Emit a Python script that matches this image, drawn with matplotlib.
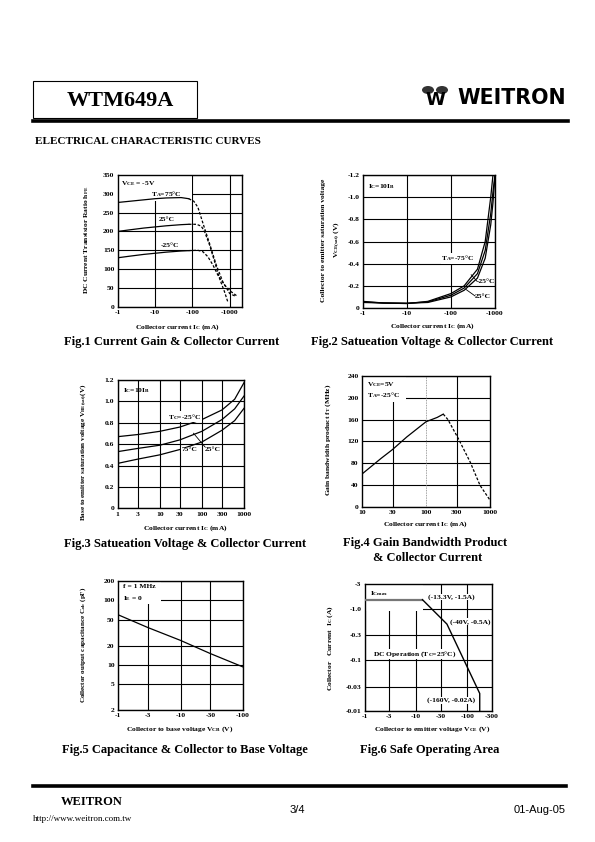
import numpy as np
import matplotlib
import matplotlib.pyplot as plt
from matplotlib.patches import Rectangle, Ellipse
from matplotlib.lines import Line2D

plt.rcParams['font.family'] = 'Liberation Serif'
plt.rcParams['font.weight'] = 'bold'
plt.rcParams['mathtext.fontset'] = 'custom'
plt.rcParams['mathtext.rm'] = 'Liberation Serif:bold'
plt.rcParams['mathtext.it'] = 'Liberation Serif:bold'
plt.rcParams['mathtext.bf'] = 'Liberation Serif:bold'
plt.rcParams['mathtext.default'] = 'rm'

# ---------------- data ----------------
# Fig.1 hFE vs Ic
f1_solid_x = [1, 2, 5, 10, 20, 50, 80]
f1_75_solid = [277, 280, 284, 287, 289, 290, 287]
f1_25_solid = [200, 204, 209, 212, 215, 218, 219]
f1_m25_solid = [130, 134, 139, 142, 145, 148, 149]
f1_75_dash_x = [80, 110, 141, 213, 289, 437, 657, 1000, 1490]
f1_75_dash = [287, 280, 264, 208, 168, 111, 66, 35, 27]
f1_25_dash_x = [80, 130, 173, 212, 289, 394, 535, 725, 890]
f1_25_dash = [219, 219, 214, 200, 164, 120, 75, 40, 13]
f1_m25_dash_x = [80, 140, 192, 260, 355, 483, 725, 1090, 1645]
f1_m25_dash = [149, 150, 146, 133, 111, 84, 58, 40, 27]

# Fig.2 VCE(sat) vs Ic
f2_x = [1, 3, 10, 30, 100, 200, 400, 600, 800, 900, 1000]
f2_a = [-0.06, -0.045, -0.04, -0.06, -0.13, -0.2, -0.35, -0.6, -1.0, -1.2, np.nan]
f2_b = [-0.055, -0.045, -0.042, -0.055, -0.115, -0.18, -0.31, -0.52, -0.85, -1.05, -1.2]
f2_c = [-0.05, -0.045, -0.043, -0.05, -0.10, -0.16, -0.27, -0.45, -0.75, -0.95, -1.2]

# Fig.3 VBE(sat) vs Ic
f3_x = [1, 3, 10, 30, 100, 300, 600, 1000]
f3_m25 = [0.67, 0.69, 0.72, 0.76, 0.83, 0.92, 1.02, 1.175]
f3_25 = [0.53, 0.56, 0.59, 0.64, 0.72, 0.83, 0.93, 1.05]
f3_75 = [0.42, 0.46, 0.50, 0.55, 0.62, 0.73, 0.82, 0.935]

# Fig.4 fT vs Ic
f4_solid_x = [10, 20, 30, 50, 100, 150, 186]
f4_solid = [60, 89, 105, 128, 156, 164, 170]
f4_dash_x = [186, 220, 320, 490, 700, 1000]
f4_dash = [170, 160, 125, 82, 39, 12]

# Fig.5 Cob vs VCB
f5_x = [1, 3, 10, 30, 100]
f5_c = [60, 38, 24, 15, 9.3]

# Fig.6 SOA
f6_x = [13.3, 40, 175, 175]
f6_i = [1.5, 0.5, 0.022, 0.01]
f6_icmax_x = [1, 13.3]
f6_icmax = [1.5, 1.5]

W, H = 595, 842
fig = plt.figure(figsize=(5.95, 8.42), dpi=100)
TS = 5.4


def box(x0, y0, x1, y1):
    return fig.add_axes([x0 / W, 1 - y1 / H, (x1 - x0) / W, (y1 - y0) / H])


def style(ax, grid=True):
    for s in ax.spines.values():
        s.set_linewidth(1.0)
    ax.minorticks_off()
    ax.tick_params(which='both', length=0, labelsize=TS, pad=2.5)
    ax.set_axisbelow(True)
    if grid:
        ax.grid(True, color='black', lw=0.8)


def ftext(x, y, s, **kw):
    fig.text(x / W, 1 - y / H, s, **kw)


def white(ax, x0, y0, x1, y1):
    ax.add_patch(Rectangle((x0, y0), x1 - x0, y1 - y0, transform=ax.transAxes,
                           facecolor='white', edgecolor='none', zorder=1))


LW = 0.9
DASH = (0, (2.2, 1.4))
WB = dict(facecolor='white', edgecolor='none', pad=0.3)

# ---------- Fig 1 ----------
ax = box(117.7, 175, 241.7, 306.7)
ax.set_xscale('log')
ax.set_xlim(1, 2100)
ax.set_ylim(0, 350)
ax.set_xticks([1, 10, 100, 1000])
ax.set_xticklabels(['-1', '-10', '-100', '-1000'])
ax.set_yticks(range(0, 351, 50))
style(ax)
white(ax, 0, 0.8, 0.6, 1)
for xs, ys, xd, yd in [(f1_solid_x, f1_75_solid, f1_75_dash_x, f1_75_dash),
                       (f1_solid_x, f1_25_solid, f1_25_dash_x, f1_25_dash),
                       (f1_solid_x, f1_m25_solid, f1_m25_dash_x, f1_m25_dash)]:
    ax.plot(xs, ys, color='black', lw=LW, zorder=3)
    ax.plot(xd, yd, color='black', lw=LW, ls=DASH, zorder=3)
ax.text(0.03, 0.97, r'$V_{CE}$ = -5V', transform=ax.transAxes, fontsize=TS, va='top')
ax.text(0.27, 0.855, r'$T_A$=75°C', transform=ax.transAxes, fontsize=TS, va='center')
ax.text(0.33, 0.665, '25°C', transform=ax.transAxes, fontsize=TS, va='center')
ax.text(0.35, 0.465, '-25°C', transform=ax.transAxes, fontsize=TS, va='center')
ftext(177, 327, r'Collector current $I_C$ (mA)', fontsize=TS, ha='center', va='center')
ftext(87, 240, r'DC Current Transistor Ratio $h_{FE}$', fontsize=TS, ha='center',
      va='center', rotation=90)
ftext(172, 342, 'Fig.1 Current Gain & Collector Current', fontsize=9, ha='center', va='center')

# ---------- Fig 2 ----------
ax = box(362.7, 175, 495, 308)
ax.set_xscale('log')
ax.set_xlim(1, 1000)
ax.set_ylim(0, -1.2)
ax.set_xticks([1, 10, 100, 1000])
ax.set_xticklabels(['-1', '-10', '-100', '-1000'])
ax.set_yticks([0, -0.2, -0.4, -0.6, -0.8, -1.0, -1.2])
ax.set_yticklabels(['0', '-0.2', '-0.4', '-0.6', '-0.8', '-1.0', '-1.2'])
style(ax)
for ys in (f2_a, f2_b, f2_c):
    ax.plot(f2_x, ys, color='black', lw=LW, zorder=3)
ax.text(0.04, 0.95, r'$I_C$=10$I_B$', transform=ax.transAxes, fontsize=TS, va='top')
ax.text(0.595, 0.375, r'$T_A$=-75°C', transform=ax.transAxes, fontsize=TS, va='center',
        bbox=WB)
ax.text(0.86, 0.2, '-25°C', transform=ax.transAxes, fontsize=TS, va='center')
ax.text(0.85, 0.085, '25°C', transform=ax.transAxes, fontsize=TS, va='center')
ax.plot([0.82, 0.865], [0.25, 0.2], transform=ax.transAxes, color='black', lw=0.6, zorder=3)
ax.plot([0.78, 0.85], [0.14, 0.09], transform=ax.transAxes, color='black', lw=0.6, zorder=3)
ftext(432, 326, r'Collector current $I_C$ (mA)', fontsize=TS, ha='center', va='center')
ftext(324, 240, 'Collector to emitter saturation voltage', fontsize=TS, ha='center',
      va='center', rotation=90)
ftext(337, 240, r'$V_{CE(sat)}$ (V)', fontsize=TS, ha='center', va='center', rotation=90)
ftext(432, 342, 'Fig.2 Satueation Voltage & Collector Current', fontsize=9, ha='center',
      va='center')

# ---------- Fig 3 ----------
ax = box(117.7, 380, 244, 508.3)
ax.set_xscale('log')
ax.set_xlim(1, 1000)
ax.set_ylim(0, 1.2)
ax.set_xticks([1, 3, 10, 30, 100, 300, 1000])
ax.set_xticklabels(['1', '3', '10', '30', '100', '300', '1000'])
ax.set_yticks([0, 0.2, 0.4, 0.6, 0.8, 1.0, 1.2])
ax.set_yticklabels(['0', '0.2', '0.4', '0.6', '0.8', '1.0', '1.2'])
style(ax)
for ys in (f3_m25, f3_25, f3_75):
    ax.plot(f3_x, ys, color='black', lw=LW, zorder=3)
ax.text(0.04, 0.95, r'$I_C$=10$I_B$', transform=ax.transAxes, fontsize=TS, va='top')
ax.text(0.40, 0.715, r'$T_C$=-25°C', transform=ax.transAxes, fontsize=TS, va='center',
        bbox=WB)
ax.text(0.505, 0.455, '75°C', transform=ax.transAxes, fontsize=TS, va='center', bbox=WB)
ax.text(0.69, 0.455, '25°C', transform=ax.transAxes, fontsize=TS, va='center', bbox=WB)
ax.plot([0.6, 0.69], [0.585, 0.48], transform=ax.transAxes, color='black', lw=0.6, zorder=3)
ftext(185, 528, r'Collector current $I_C$ (mA)', fontsize=TS, ha='center', va='center')
ftext(84, 452, r'Base to emitter saturation voltage $V_{BE(sat)}$(V)', fontsize=5.1,
      ha='center', va='center', rotation=90)
ftext(185, 544, 'Fig.3 Satueation Voltage & Collector Current', fontsize=9, ha='center',
      va='center')

# ---------- Fig 4 ----------
ax = box(362, 376, 490, 506.7)
ax.set_xscale('log')
ax.set_xlim(10, 1000)
ax.set_ylim(0, 240)
ax.set_xticks([10, 30, 100, 300, 1000])
ax.set_xticklabels(['10', '30', '100', '300', '1000'])
ax.set_yticks(range(0, 241, 40))
style(ax, grid=False)
ax.yaxis.grid(True, color='black', lw=0.8)
for v in (30, 300):
    ax.axvline(v, color='black', lw=0.8, zorder=0.5)
white(ax, 0, 0.8, 0.34, 1)
ax.axvline(100, color='gray', lw=0.6, ls=(0, (1, 1)), zorder=1.5)
ax.plot(f4_solid_x, f4_solid, color='black', lw=LW, zorder=3)
ax.plot(f4_dash_x, f4_dash, color='black', lw=LW, ls=DASH, zorder=3)
ax.text(0.04, 0.97, r'$V_{CE}$=5V', transform=ax.transAxes, fontsize=TS, va='top')
ax.text(0.04, 0.89, r'$T_A$=-25°C', transform=ax.transAxes, fontsize=TS, va='top')
ftext(425, 524, r'Collector current $I_C$ (mA)', fontsize=TS, ha='center', va='center')
ftext(328, 440, r'Gain bandwidth product $f_T$ (MHz)', fontsize=TS, ha='center',
      va='center', rotation=90)
ftext(425, 543, 'Fig.4 Gain Bandwidth Product', fontsize=9, ha='center', va='center')
ftext(428, 558, '& Collector Current', fontsize=9, ha='center', va='center')

# ---------- Fig 5 ----------
ax = box(118, 581, 243, 710)
ax.set_xscale('log')
ax.set_yscale('log')
ax.set_xlim(1, 100)
ax.set_ylim(2, 200)
ax.set_xticks([1, 3, 10, 30, 100])
ax.set_xticklabels(['-1', '-3', '-10', '-30', '-100'])
ax.set_yticks([2, 5, 10, 20, 50, 100, 200])
ax.set_yticklabels(['2', '5', '10', '20', '50', '100', '200'])
style(ax)
white(ax, 0, 0.82, 0.34, 1)
ax.plot(f5_x, f5_c, color='black', lw=LW, zorder=3)
ax.text(0.04, 0.975, 'f = 1 MHz', transform=ax.transAxes, fontsize=TS, va='top')
ax.text(0.04, 0.895, r'$I_E$ = 0', transform=ax.transAxes, fontsize=TS, va='top')
ftext(180, 729, r'Collector to base voltage $V_{CB}$ (V)', fontsize=TS, ha='center', va='center')
ftext(83, 645, r'Collector output capacitance $C_{ob}$ (pF)', fontsize=5.1, ha='center',
      va='center', rotation=90)
ftext(185, 750, 'Fig.5 Capacitance & Collector to Base Voltage', fontsize=9, ha='center',
      va='center')

# ---------- Fig 6 ----------
ax = box(365, 584.3, 491.7, 711)
ax.set_xscale('log')
ax.set_yscale('log')
ax.set_xlim(1, 300)
ax.set_ylim(0.01, 3)
ax.set_xticks([1, 3, 10, 30, 100, 300])
ax.set_xticklabels(['-1', '-3', '-10', '-30', '-100', '-300'])
ax.set_yticks([0.01, 0.03, 0.1, 0.3, 1, 3])
ax.set_yticklabels(['-0.01', '-0.03', '-0.1', '-0.3', '-1.0', '-3'])
style(ax)
white(ax, 0, 0.79, 0.46, 1)
ax.plot(f6_icmax_x, f6_icmax, color='#777777', lw=1.6, zorder=3)
ax.plot(f6_x, f6_i, color='black', lw=1.0, zorder=3)
ax.text(0.04, 0.93, r'$I_{Cmax}$', transform=ax.transAxes, fontsize=TS, va='center')
ax.text(0.5, 0.9, '(-13.3V, -1.5A)', transform=ax.transAxes, fontsize=TS, va='center',
        bbox=WB)
ax.text(0.67, 0.705, '(-40V, -0.5A)', transform=ax.transAxes, fontsize=TS, va='center',
        bbox=WB)
ax.text(0.06, 0.45, r'DC Operation ($T_C$=25°C)', transform=ax.transAxes, fontsize=TS,
        va='center', bbox=WB)
ax.text(0.49, 0.085, '(-160V, -0.02A)', transform=ax.transAxes, fontsize=TS, va='center',
        bbox=WB)
ftext(432, 729, r'Collector to emitter voltage $V_{CE}$ (V)', fontsize=TS, ha='center',
      va='center')
ftext(330, 648, r'Collector   Current  $I_C$ (A)', fontsize=TS, ha='center', va='center',
      rotation=90)
ftext(430, 750, 'Fig.6 Safe Operating Area', fontsize=9, ha='center', va='center')

# ---------- page header / footer ----------
fig.add_artist(Rectangle((33 / W, 1 - 118 / H), 164 / W, 37 / H, transform=fig.transFigure,
                         facecolor='none', edgecolor='black', lw=0.8))
fig.add_artist(Line2D([33 / W, 568 / W], [1 - 120.5 / H] * 2, transform=fig.transFigure,
                      color='black', lw=2.6))
ftext(120, 101, 'WTM649A', fontsize=16, ha='center', va='center')
ftext(35, 141, 'ELECTRICAL CHARACTERISTIC CURVES', fontsize=8, ha='left', va='center')
ftext(457, 98, 'WEITRON', fontsize=14.8, ha='left', va='center', family='DejaVu Sans')
ftext(435, 100, 'W', fontsize=13, ha='center', va='center', family='DejaVu Sans')
for cx in (428, 442):
    fig.add_artist(Ellipse((cx / W, 1 - 90 / H), 12 / W, 8 / H, transform=fig.transFigure,
                           facecolor='#333333', edgecolor='none'))

fig.add_artist(Line2D([33 / W, 566 / W], [1 - 786 / H] * 2, transform=fig.transFigure,
                      color='black', lw=2.6))
ftext(92, 802, 'WEITRON', fontsize=9, ha='center', va='center')
ftext(33, 819, 'http://www.weitron.com.tw', fontsize=6.5, ha='left', va='center',
      weight='normal')
ftext(297, 810, '3/4', fontsize=8, ha='center', va='center', family='Liberation Sans',
      weight='normal')
ftext(566, 810, '01-Aug-05', fontsize=8, ha='right', va='center', family='Liberation Sans',
      weight='normal')

fig.savefig('out.png', dpi=100)
